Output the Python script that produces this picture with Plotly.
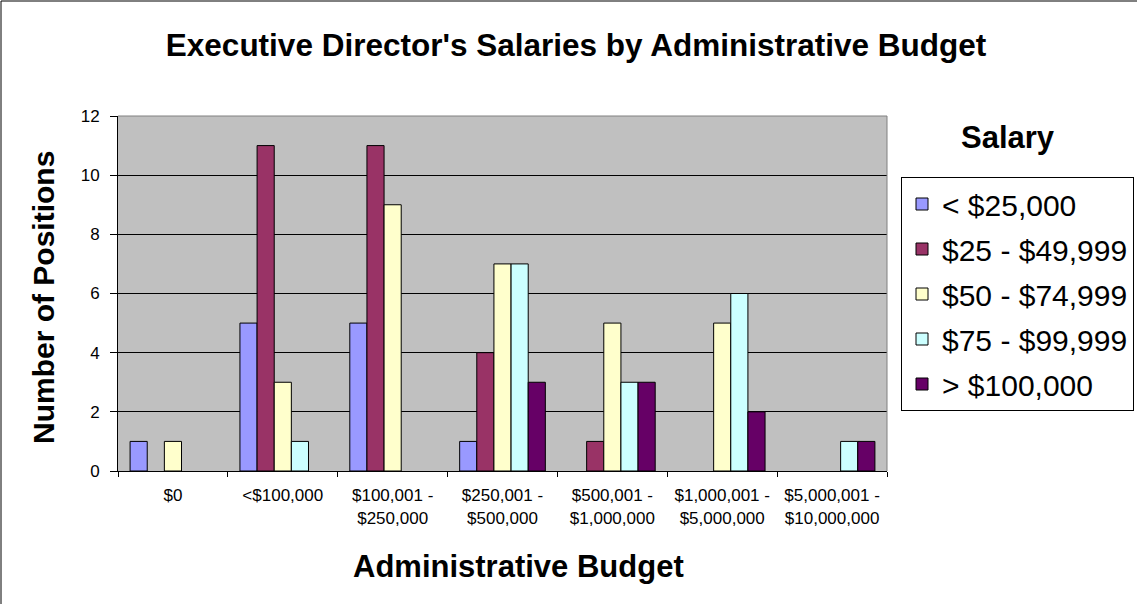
import plotly.graph_objects as go

# Administrative budget bands (x categories)
budgets = [
    "$0",
    "<$100,000",
    "$100,001 -<br>$250,000",
    "$250,001 -<br>$500,000",
    "$500,001 -<br>$1,000,000",
    "$1,000,001 -<br>$5,000,000",
    "$5,000,001 -<br>$10,000,000",
]

# Number of positions per salary band
under_25k = [1, 5, 5, 1, 0, 0, 0]
s25_50k = [0, 11, 11, 4, 1, 0, 0]
s50_75k = [1, 3, 9, 7, 5, 5, 0]
s75_100k = [0, 1, 0, 7, 3, 6, 1]
over_100k = [0, 0, 0, 3, 3, 2, 1]

series = [
    ("< $25,000", under_25k, "#9999FF"),
    ("$25 - $49,999", s25_50k, "#993366"),
    ("$50 - $74,999", s50_75k, "#FFFFCC"),
    ("$75 - $99,999", s75_100k, "#CCFFFF"),
    ("> $100,000", over_100k, "#660066"),
]

FONT = "Liberation Sans, Arial, sans-serif"
W, H = 1137, 604
L, R, T, B = 118, 250, 116, 133
pw, ph = W - L - R, H - T - B


def px_x(x):
    return (x - L) / pw


def px_y(y):
    return 1 - (y - T) / ph


fig = go.Figure()
for i, (name, vals, color) in enumerate(series):
    fig.add_trace(go.Bar(
        x=budgets,
        # empty cells are left blank so no outline is drawn at zero
        y=[v if v else None for v in vals],
        name=name, legendgroup=str(i),
        marker=dict(color=color, line=dict(color="black", width=1)),
    ))

fig.update_layout(
    width=W, height=H,
    margin=dict(l=L, r=R, t=T, b=B, pad=0, autoexpand=False),
    paper_bgcolor="white",
    plot_bgcolor="#C0C0C0",
    barmode="group",
    bargap=0.22,
    bargroupgap=0,
    font=dict(family=FONT, color="black"),
    title=dict(
        text="<b>Executive Director's Salaries by Administrative Budget</b>",
        x=576 / W, xref="container", xanchor="center",
        y=1 - 45 / H, yref="container", yanchor="middle",
        font=dict(size=31.5, family=FONT, color="black"),
    ),
    xaxis=dict(
        tickson="boundaries",
        ticks="outside", ticklen=5, tickcolor="black", tickwidth=1,
        ticklabelstandoff=9,
        showline=True, linecolor="black", linewidth=1,
        tickfont=dict(size=17, family=FONT),
        showgrid=False,
    ),
    yaxis=dict(
        range=[0, 12], dtick=2,
        ticks="outside", ticklen=7, tickcolor="black", tickwidth=1,
        ticklabelstandoff=7,
        showline=True, linecolor="black", linewidth=1,
        showgrid=True, gridcolor="black", gridwidth=1,
        zeroline=False,
        tickfont=dict(size=17, family=FONT),
    ),
    legend=dict(
        x=px_x(901), xanchor="left",
        y=px_y(177), yanchor="top",
        bordercolor="black", borderwidth=1, bgcolor="white",
        font=dict(size=30, family=FONT),
        tracegroupgap=3, itemwidth=30,
    ),
    showlegend=True,
)

# Axis titles
fig.add_annotation(
    text="<b>Administrative Budget</b>", xref="paper", yref="paper",
    x=px_x(518), y=px_y(566), xanchor="center", yanchor="middle",
    showarrow=False, font=dict(size=31, family=FONT, color="black"),
)
fig.add_annotation(
    text="<b>Number of Positions</b>", xref="paper", yref="paper",
    x=px_x(43), y=px_y(298), xanchor="center", yanchor="middle",
    textangle=-90, showarrow=False,
    font=dict(size=30, family=FONT, color="black"),
)

# Legend heading
fig.add_annotation(
    text="<b>Salary</b>", xref="paper", yref="paper",
    x=px_x(1008), y=px_y(137),
    xanchor="center", yanchor="middle", showarrow=False,
    font=dict(size=31, family=FONT, color="black"),
)

# Gray frame on the top and right sides of the plot area
fig.add_shape(type="line", xref="paper", yref="paper", x0=0, x1=1, y0=1, y1=1,
              line=dict(color="#808080", width=1))
fig.add_shape(type="line", xref="paper", yref="paper", x0=1, x1=1, y0=0, y1=1,
              line=dict(color="#808080", width=1))
# Outer chart border (left and top edges)
fig.add_shape(type="line", xref="paper", yref="paper",
              x0=px_x(1), x1=px_x(1), y0=px_y(H + 2), y1=px_y(1),
              line=dict(color="black", width=1))
fig.add_shape(type="line", xref="paper", yref="paper",
              x0=px_x(1), x1=px_x(W + 2), y0=px_y(1), y1=px_y(1),
              line=dict(color="black", width=1))

fig.write_html("out.html")
